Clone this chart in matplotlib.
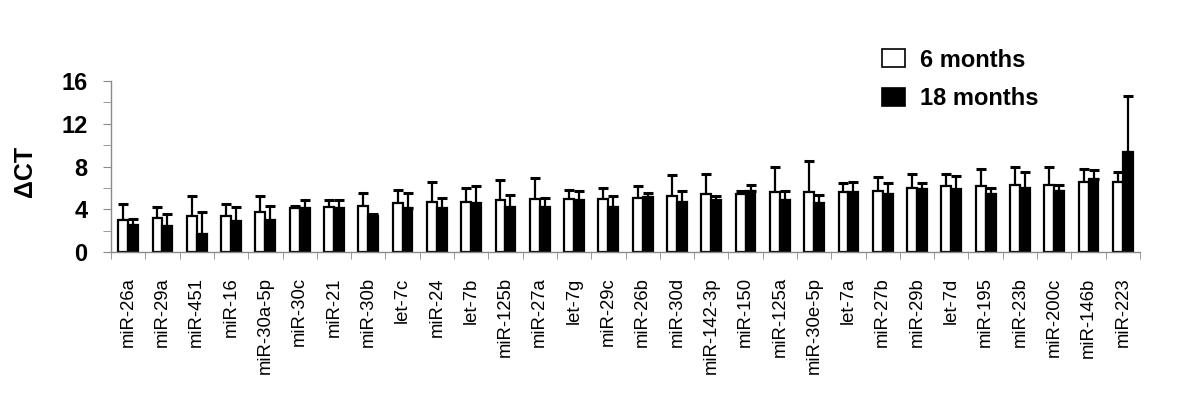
import matplotlib
matplotlib.use("Agg")
import matplotlib.pyplot as plt
from matplotlib.patches import Patch
import numpy as np

plt.rcParams['font.family'] = ['Liberation Sans', 'DejaVu Sans']

categories = ["miR-26a", "miR-29a", "miR-451", "miR-16", "miR-30a-5p", "miR-30c", "miR-21",
              "miR-30b", "let-7c", "miR-24", "let-7b", "miR-125b", "miR-27a", "let-7g",
              "miR-29c", "miR-26b", "miR-30d", "miR-142-3p", "miR-150", "miR-125a",
              "miR-30e-5p", "let-7a", "miR-27b", "miR-29b", "let-7d", "miR-195", "miR-23b",
              "miR-200c", "miR-146b", "miR-223"]

six_months = [3.01, 3.2, 3.35, 3.35, 3.76, 4.1, 4.22, 4.35, 4.57, 4.66, 4.66, 4.85, 4.97, 4.97,
              4.97, 5.09, 5.25, 5.44, 5.4, 5.59, 5.59, 5.59, 5.72, 6.0, 6.15, 6.15, 6.31, 6.31,
              6.59, 6.59]
six_err = [1.49, 1.02, 1.9, 1.15, 1.49, 0.25, 0.69, 1.18, 1.27, 1.93, 1.34, 1.89, 1.93, 0.87,
           1.03, 1.06, 1.93, 1.89, 0.29, 2.36, 2.95, 0.84, 1.33, 1.33, 1.18, 1.65, 1.61, 1.61,
           1.21, 0.9]

eighteen_months = [2.58, 2.42, 1.71, 2.89, 3.04, 4.1, 4.1, 3.42, 4.1, 4.1, 4.57, 4.26, 4.26,
                   4.85, 4.26, 5.16, 4.66, 4.88, 5.72, 4.85, 4.57, 5.59, 5.47, 5.87, 5.87, 5.47,
                   6.03, 5.75, 6.8, 9.32]
eighteen_err = [0.56, 1.15, 2.02, 1.33, 1.31, 0.81, 0.81, 0.15, 1.43, 0.99, 1.58, 1.11, 0.83,
                0.84, 0.99, 0.4, 1.03, 0.37, 0.56, 0.87, 0.8, 1.0, 0.96, 0.56, 1.28, 0.53, 1.46,
                0.53, 0.84, 5.25]

y_ticks = [0, 4, 8, 12, 16]

fig = plt.figure(figsize=(12, 4.12), dpi=100)
ax = fig.add_axes([0.0925, 0.3876, 0.8575, 0.4164])

x = np.arange(len(categories))
w = 0.29
gray = '#8a8a8a'

ax.bar(x - w / 2, six_months, w, color='white', edgecolor='black', linewidth=1.6, zorder=2)
ax.bar(x + w / 2, eighteen_months, w, color='black', edgecolor='black', linewidth=1.6, zorder=2)

zeros = np.zeros(len(categories))
ax.errorbar(x - w / 2, six_months, yerr=[zeros, six_err], fmt='none', ecolor='black',
            elinewidth=1.6, capsize=3.8, capthick=2.2, zorder=1)
ax.errorbar(x + w / 2, eighteen_months, yerr=[zeros, eighteen_err], fmt='none', ecolor='black',
            elinewidth=1.6, capsize=3.8, capthick=2.2, zorder=1)

ax.set_xlim(-0.5, len(categories) - 0.5)
ax.set_ylim(0, 16)

for s in ['top', 'right']:
    ax.spines[s].set_visible(False)
for s in ['left', 'bottom']:
    ax.spines[s].set_color(gray)
    ax.spines[s].set_linewidth(1.0)

ax.set_xticks(x)
ax.set_xticklabels(categories, rotation=90, fontsize=13.3)
ax.set_xticks(np.arange(-0.5, len(categories), 1.0), minor=True)
ax.tick_params(axis='x', which='major', length=0, pad=18)
ax.tick_params(axis='x', which='minor', length=5, color=gray, direction='out')

ax.set_yticks(y_ticks)
ax.set_yticklabels([str(t) for t in y_ticks], fontsize=17, fontweight='bold')
ax.set_yticks([2, 6, 10, 14], minor=True)
ax.tick_params(axis='y', which='both', length=6, color=gray, direction='out', pad=11)

ax.set_ylabel('ΔCT', fontsize=18, fontweight='bold')
ax.yaxis.set_label_coords(-0.072, 0.474)

handles = [Patch(facecolor='white', edgecolor='black', linewidth=1.2),
           Patch(facecolor='black', edgecolor='black', linewidth=1.2)]
leg = fig.legend(handles, ['6 months', '18 months'], loc='upper left',
                 bbox_to_anchor=(0.727, 0.905), frameon=False,
                 prop={'size': 17, 'weight': 'bold'}, handlelength=1.0, handleheight=0.78,
                 handletextpad=0.6, labelspacing=0.65, borderaxespad=0)

fig.savefig('out.png', dpi=100)
